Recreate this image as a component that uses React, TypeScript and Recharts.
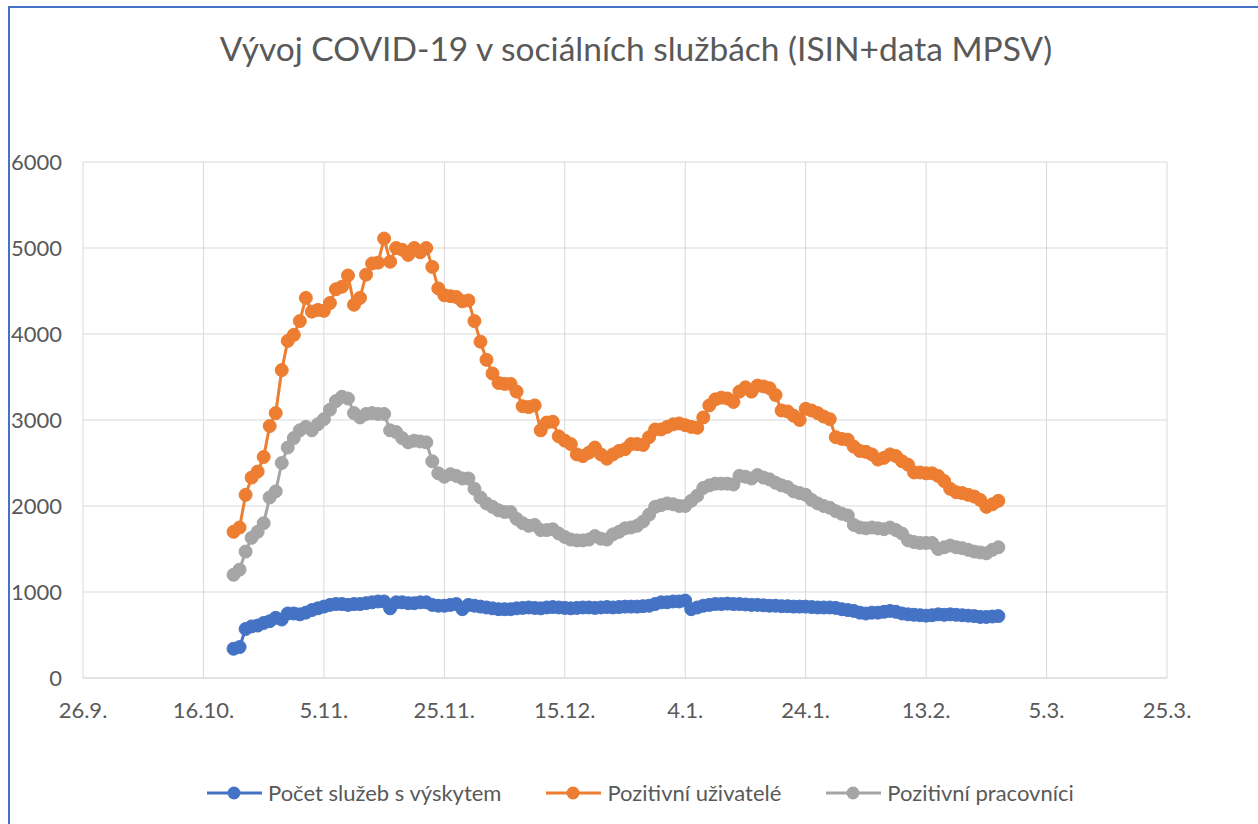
import React from "react";
import { LineChart, Line, XAxis, YAxis, CartesianGrid } from "recharts";

// days since 26.9. (first point = 21.10.)
const firstDay = 25;

const sluzby = [
  340, 360, 570, 600, 610, 640, 660, 700, 680, 750,
  750, 740, 760, 790, 810, 830, 850, 860, 860, 850,
  860, 860, 870, 880, 890, 890, 810, 880, 880, 870,
  870, 880, 880, 850, 840, 840, 850, 860, 800, 850,
  840, 830, 820, 810, 800, 800, 800, 810, 815, 820,
  815, 810, 820, 825, 820, 815, 810, 815, 820, 820,
  815, 820, 825, 820, 825, 830, 830, 830, 835, 840,
  860, 880, 880, 890, 890, 900, 800, 820, 840, 850,
  860, 860, 865, 860, 860, 855, 850, 850, 845, 840,
  840, 835, 835, 830, 830, 830, 825, 820, 820, 820,
  815, 800, 790, 780, 760, 750, 760, 760, 770, 780,
  770, 750, 740, 735, 730, 725, 730, 740, 735, 740,
  735, 730, 725, 720, 710, 710, 715, 720,
];

const uzivatele = [
  1700, 1750, 2130, 2330, 2400, 2570, 2930, 3080, 3580, 3920,
  3990, 4150, 4420, 4260, 4280, 4270, 4360, 4520, 4550, 4680,
  4340, 4420, 4690, 4820, 4830, 5110, 4840, 5000, 4980, 4920,
  5000, 4950, 5000, 4780, 4530, 4450, 4440, 4430, 4380, 4390,
  4150, 3910, 3700, 3540, 3430, 3420, 3420, 3330, 3160, 3150,
  3170, 2880, 2970, 2980, 2810, 2760, 2720, 2600, 2580, 2620,
  2680, 2600, 2550, 2600, 2640, 2660, 2720, 2720, 2710, 2800,
  2890, 2890, 2920, 2950, 2960, 2940, 2920, 2910, 3030, 3170,
  3240, 3260, 3250, 3210, 3330, 3380, 3330, 3400, 3390, 3370,
  3290, 3110, 3100, 3050, 3000, 3130, 3110, 3080, 3040, 3010,
  2800, 2780, 2770, 2690, 2640, 2630, 2600, 2540, 2560, 2600,
  2580, 2520, 2480, 2390, 2390, 2380, 2380, 2350, 2290, 2200,
  2160, 2150, 2130, 2110, 2070, 1990, 2020, 2060,
];

const pracovnici = [
  1200, 1260, 1470, 1630, 1700, 1800, 2100, 2170, 2500, 2680,
  2790, 2880, 2920, 2880, 2950, 3010, 3120, 3220, 3270, 3250,
  3080, 3030, 3070, 3080, 3070, 3070, 2880, 2860, 2790, 2740,
  2760, 2750, 2740, 2520, 2380, 2340, 2370, 2350, 2320, 2320,
  2200, 2100, 2030, 1990, 1950, 1930, 1930, 1850, 1800, 1770,
  1780, 1720, 1720, 1730, 1680, 1640, 1610, 1600, 1600, 1610,
  1650, 1620, 1610, 1670, 1700, 1740, 1750, 1770, 1820, 1900,
  1990, 2010, 2030, 2020, 2000, 2000, 2060, 2120, 2210, 2240,
  2260, 2260, 2260, 2250, 2350, 2340, 2320, 2360, 2330, 2310,
  2270, 2240, 2220, 2170, 2150, 2130, 2070, 2030, 2000, 1980,
  1940, 1910, 1890, 1780, 1750, 1740, 1750, 1740, 1730, 1750,
  1720, 1680, 1600, 1580, 1570, 1570, 1570, 1500, 1520, 1540,
  1520, 1510, 1490, 1470, 1460, 1450, 1490, 1520,
];

const xTicks = [0, 20, 40, 60, 80, 100, 120, 140, 160, 180];
const xTickLabels = ["26.9.", "16.10.", "5.11.", "25.11.", "15.12.", "4.1.", "24.1.", "13.2.", "5.3.", "25.3."];
const yTicks = [0, 1000, 2000, 3000, 4000, 5000, 6000];

const series = [
  { key: "sluzby", name: "Počet služeb s výskytem", color: "#4472C4" },
  { key: "uzivatele", name: "Pozitivní uživatelé", color: "#ED7D31" },
  { key: "pracovnici", name: "Pozitivní pracovníci", color: "#A5A5A5" },
];

const data = sluzby.map((v, i) => ({
  day: firstDay + i,
  sluzby: v,
  uzivatele: uzivatele[i],
  pracovnici: pracovnici[i],
}));

const FONT = "Lato, 'Noto Sans', sans-serif";
const TEXT = "#595959";

const LegendRow = () => (
  <div
    style={{
      position: "absolute",
      left: 207,
      top: 779,
      display: "flex",
      alignItems: "center",
      gap: 45,
      fontFamily: FONT,
      fontSize: 22,
      color: TEXT,
      whiteSpace: "nowrap",
    }}
  >
    {series.map((s) => (
      <div key={s.key} style={{ display: "flex", alignItems: "center" }}>
        <svg width={55} height={16}>
          <line x1={0} y1={8} x2={55} y2={8} stroke={s.color} strokeWidth={3} />
          <circle cx={27} cy={8} r={6.5} fill={s.color} />
        </svg>
        <span style={{ marginLeft: 6 }}>{s.name}</span>
      </div>
    ))}
  </div>
);

export default function App() {
  return (
    <div
      style={{
        position: "absolute",
        left: 0,
        top: 0,
        width: 1258,
        height: 824,
        background: "#fff",
        overflow: "hidden",
      }}
    >
      <div
        style={{
          position: "absolute",
          left: 8,
          top: 6,
          width: 1400,
          height: 900,
          borderTop: "2px solid #4472C4",
          borderLeft: "2px solid #4472C4",
        }}
      />
      <div
        style={{
          position: "absolute",
          left: 0,
          width: 1272,
          top: 28,
          textAlign: "center",
          fontFamily: FONT,
          fontSize: 33.5,
          color: TEXT,
          whiteSpace: "nowrap",
        }}
      >
        Vývoj COVID-19 v sociálních službách (ISIN+data MPSV)
      </div>
      <div style={{ position: "absolute", left: 0, top: 0 }}>
        <LineChart
          width={1258}
          height={824}
          data={data}
          margin={{ top: 162, right: 91, bottom: 106, left: 23 }}
        >
          <CartesianGrid stroke="#D9D9D9" strokeWidth={1} />
          <XAxis
            dataKey="day"
            type="number"
            domain={[0, 180]}
            ticks={xTicks}
            tickFormatter={(v: number) => xTickLabels[xTicks.indexOf(v)]}
            height={40}
            tickLine={false}
            tickSize={0}
            tickMargin={24}
            axisLine={{ stroke: "#D9D9D9" }}
            tick={{ fontSize: 22, fill: TEXT, fontFamily: FONT }}
          />
          <YAxis
            type="number"
            domain={[0, 6000]}
            ticks={yTicks}
            width={60}
            tickLine={false}
            tickSize={0}
            tickMargin={21}
            axisLine={false}
            tick={{ fontSize: 22, fill: TEXT, fontFamily: FONT }}
          />
          {series.map((s) => (
            <Line
              key={s.key}
              dataKey={s.key}
              name={s.name}
              stroke={s.color}
              strokeWidth={3}
              dot={{ r: 6.5, fill: s.color, stroke: s.color, strokeWidth: 1 }}
              activeDot={false}
              isAnimationActive={false}
            />
          ))}
        </LineChart>
      </div>
      <LegendRow />
    </div>
  );
}
